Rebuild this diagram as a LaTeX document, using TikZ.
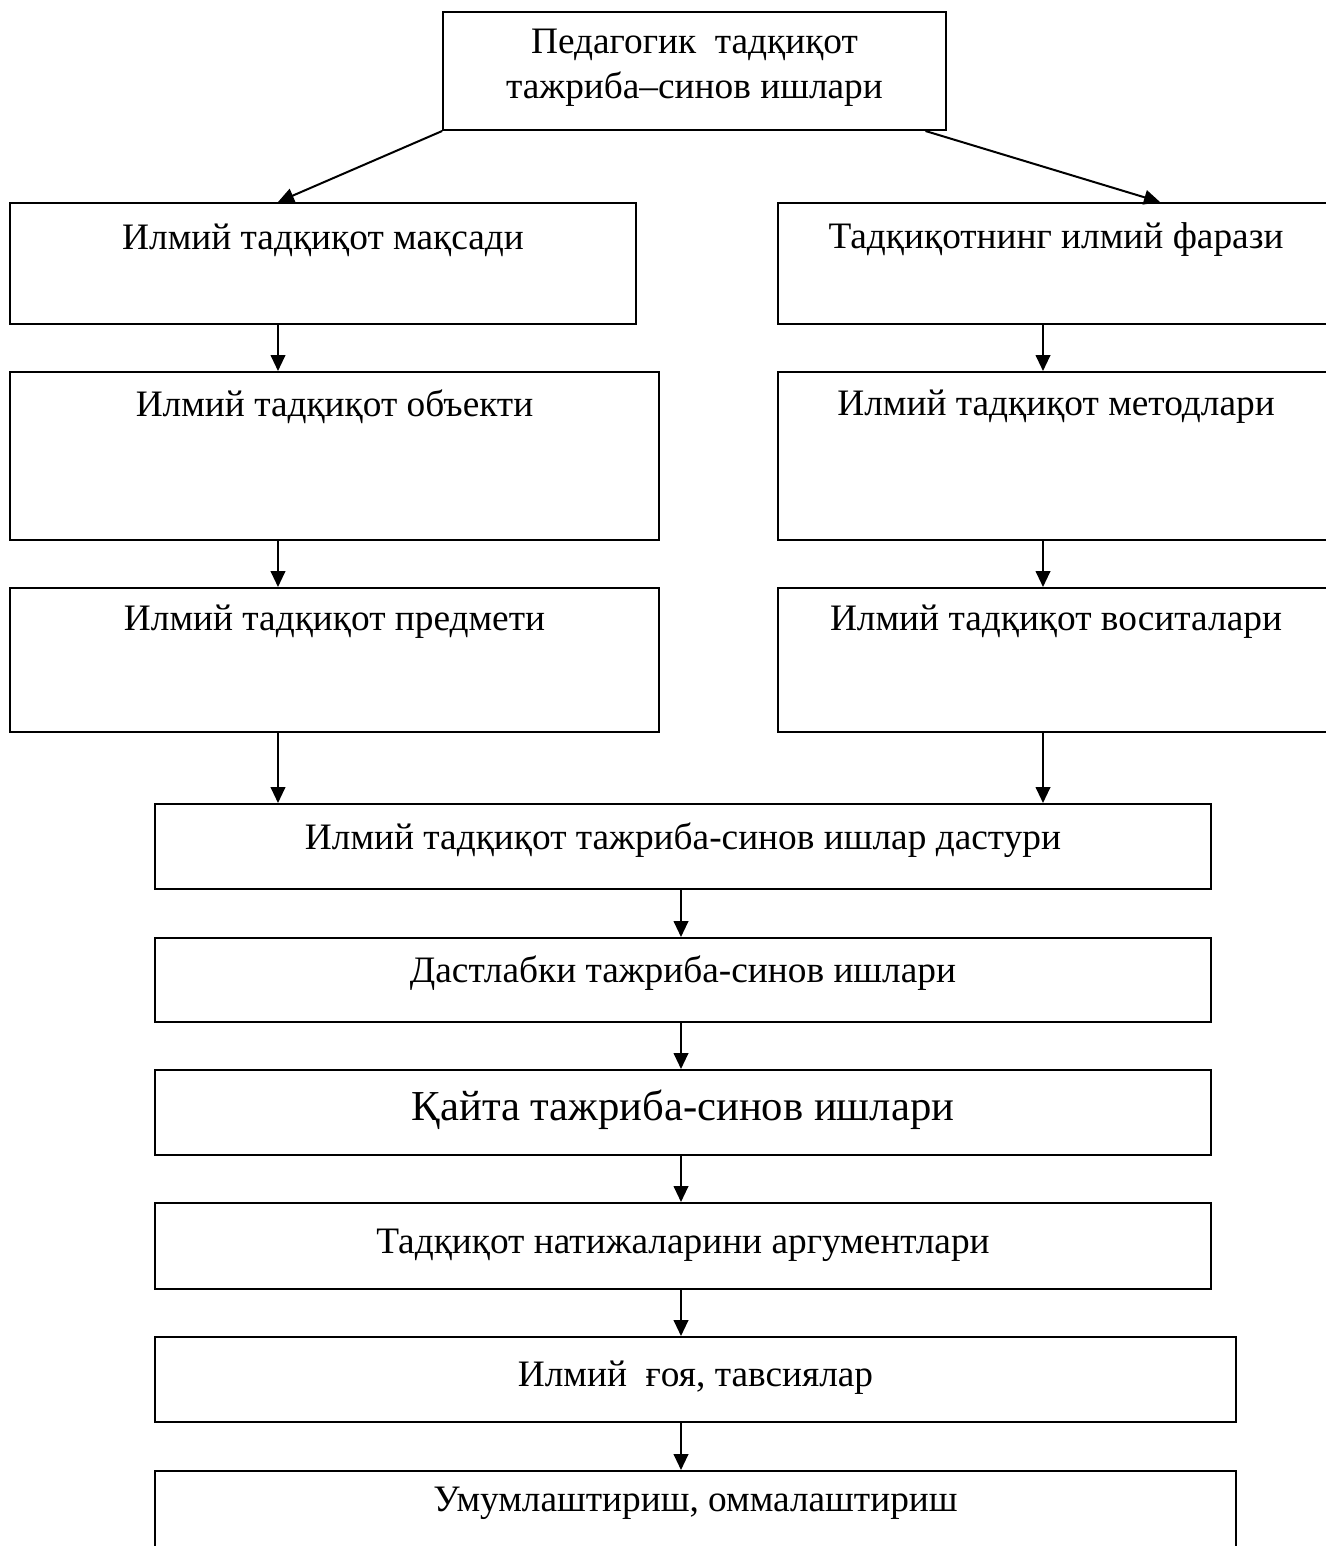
\documentclass[tikz,border=0pt]{standalone}
\usepackage{fontspec}
\setmainfont{Liberation Serif}
\usetikzlibrary{arrows.meta}

\tikzset{every picture/.style={line width=1.5pt}}
\tikzset{
  box/.style={draw, rectangle, inner sep=0pt},
  lbl/.style={inner sep=0.75pt, font=\fontsize{28}{34}\selectfont, align=center},
  arr/.style={-{Triangle[length=12pt,width=11pt]}}
}

\begin{document}
\begin{tikzpicture}[x=0.75pt,y=0.75pt,yscale=-1,xscale=1]

		\useasboundingbox (0,0) rectangle (1326,1546);
		\clip (0,0) rectangle (1326,1546);

		\coordinate (lx) at (278,0);
		\coordinate (rx) at (1043,0);
		\coordinate (mx) at (681,0);

		\node [box, minimum width=377pt, minimum height=88.5pt] (top) at (694.5,71) {};
		\node [lbl] (ttop) at (694.5,68) {Педагогик~~тадқиқот\\тажриба–синов ишлари};

		\node [box, minimum width=469.5pt, minimum height=90.75pt] (maqsad) at (323,263.5) {};
		\node [lbl] (tmaqsad) at (323,240) {Илмий тадқиқот мақсади};
		\node [box, minimum width=417pt, minimum height=90.75pt] (faraz) at (1056,263.5) {};
		\node [lbl] (tfaraz) at (1056,240) {Тадқиқотнинг илмий фарази};

		\node [box, minimum width=486.75pt, minimum height=126pt] (obyekt) at (334.5,456) {};
		\node [lbl] (tobyekt) at (334.5,407) {Илмий тадқиқот объекти};
		\node [box, minimum width=417pt, minimum height=126pt] (metod) at (1056,456) {};
		\node [lbl] (tmetod) at (1056,407) {Илмий тадқиқот методлари};

		\node [box, minimum width=486.75pt, minimum height=108pt] (predmet) at (334.5,660) {};
		\node [lbl] (tpredmet) at (334.5,622) {Илмий тадқиқот предмети};
		\node [box, minimum width=417pt, minimum height=108pt] (vosita) at (1056,660) {};
		\node [lbl] (tvosita) at (1056,622) {Илмий тадқиқот воситалари};

		\node [box, minimum width=792pt, minimum height=63.75pt] (dastur) at (683,846.5) {};
		\node [lbl] (tdastur) at (683,840) {Илмий тадқиқот тажриба-синов ишлар дастури};

		\node [box, minimum width=792pt, minimum height=63pt] (dastlab) at (683,980) {};
		\node [lbl] (tdastlab) at (683,973) {Дастлабки тажриба-синов ишлари};

		\node [box, minimum width=792pt, minimum height=63.75pt] (qayta) at (683,1112.5) {};
		\node [lbl, font=\fontsize{32}{38}\selectfont] (tqayta) at (683,1110) {Қайта тажриба-синов ишлари};

		\node [box, minimum width=792pt, minimum height=64.5pt] (argument) at (683,1246) {};
		\node [lbl] (targument) at (683,1245) {Тадқиқот натижаларини аргументлари};

		\node [box, minimum width=810.75pt, minimum height=63.75pt] (goya) at (695.5,1379.5) {};
		\node [lbl] (tgoya) at (695.5,1378) {Илмий~~ғоя, тавсиялар};

		\node [box, minimum width=810.75pt, minimum height=96.75pt] (umum) at (695.5,1535.5) {};
		\node [lbl] (tumum) at (695.5,1503) {Умумлаштириш, оммалаштириш};

		\draw [arr] (top.south west) -- (maqsad.north -| lx);
		\draw [arr] ([xshift=-16pt]top.south east) -- ([xshift=78pt]faraz.north);

		\draw [arr] (maqsad.south -| lx) -- (obyekt.north -| lx);
		\draw [arr] (obyekt.south -| lx) -- (predmet.north -| lx);
		\draw [arr] (predmet.south -| lx) -- (dastur.north -| lx);
		\draw [arr] (faraz.south -| rx) -- (metod.north -| rx);
		\draw [arr] (metod.south -| rx) -- (vosita.north -| rx);
		\draw [arr] (vosita.south -| rx) -- (dastur.north -| rx);

		\draw [arr] (dastur.south -| mx) -- (dastlab.north -| mx);
		\draw [arr] (dastlab.south -| mx) -- (qayta.north -| mx);
		\draw [arr] (qayta.south -| mx) -- (argument.north -| mx);
		\draw [arr] (argument.south -| mx) -- (goya.north -| mx);
		\draw [arr] (goya.south -| mx) -- (umum.north -| mx);

	\end{tikzpicture}
\end{document}
